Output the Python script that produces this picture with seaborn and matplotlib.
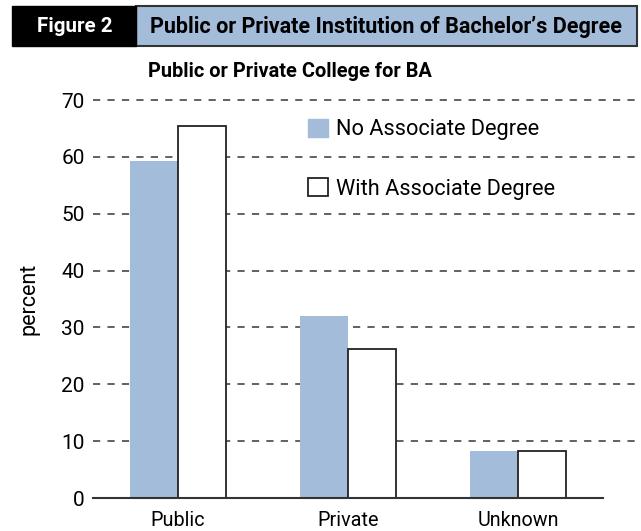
import pandas as pd
import numpy as np
import matplotlib
matplotlib.use("Agg")
import matplotlib.pyplot as plt
import seaborn as sns
from matplotlib.patches import Rectangle, Patch

categorias = ["Public", "Private", "Unknown"]
sem_associado = [59.2, 32.0, 8.3]
com_associado = [65.4, 26.2, 8.3]
series = ["No Associate Degree", "With Associate Degree"]
cores = ["#A2BCDA", "#FFFFFF"]

df = pd.DataFrame({
    "tipo": categorias * 2,
    "serie": [series[0]] * 3 + [series[1]] * 3,
    "percent": sem_associado + com_associado,
})

sns.set_style("white")
plt.rcParams["font.family"] = ["Roboto", "DejaVu Sans"]
for k in ["text.color", "axes.labelcolor", "xtick.color", "ytick.color"]:
    plt.rcParams[k] = "black"

W, H = 641, 531
fig = plt.figure(figsize=(W / 100, H / 100), dpi=100)
ax = fig.add_axes([93 / W, 1 - 498 / H, 1 - 93 / W, (498 - 100) / H])

sns.barplot(data=df, x="tipo", y="percent", hue="serie", order=categorias,
            hue_order=series, palette=cores, width=0.57, saturation=1,
            legend=False, ax=ax, zorder=3)

# borda preta so nas barras brancas
for cont, cor in zip(ax.containers, cores):
    for p in cont:
        if cor == "#FFFFFF":
            p.set_edgecolor("#222222")
            p.set_linewidth(1.3)
        else:
            p.set_edgecolor(cor)
            p.set_linewidth(0)

ax.set_ylim(0, 70)
ax.set_xlim(-0.5, -0.5 + (W - 93) / 170)
ax.set_yticks(range(0, 71, 10))
for yv in range(10, 71, 10):
    ax.axhline(yv, color="#555555", lw=1.3, ls=(0, (4, 4)), zorder=1, clip_on=False)

for s in ["top", "right", "left"]:
    ax.spines[s].set_visible(False)
ax.spines["bottom"].set_bounds(-0.5, 2.5)
ax.spines["bottom"].set_color("#333333")
ax.spines["bottom"].set_linewidth(1.5)
ax.spines["bottom"].set_zorder(4)

ax.set_xticks([-0.5, 0.5, 1.5, 2.5], minor=True)
ax.tick_params(axis="x", which="major", length=0, labelsize=14.2, pad=9)
ax.tick_params(axis="x", which="minor", length=5, width=1.3, color="#333333", direction="out")
ax.tick_params(axis="y", length=0, labelsize=15, pad=6)
ax.set_xlabel("")
ax.set_ylabel("percent", fontsize=15.5, labelpad=16)

ax.legend(handles=[Patch(facecolor=cores[0], edgecolor=cores[0]),
                   Patch(facecolor=cores[1], edgecolor="#222222", linewidth=1.3)],
          labels=series, loc="upper left", bbox_to_anchor=(0.393, 0.953),
          frameon=False, fontsize=15.7, handlelength=0.88, handleheight=0.88,
          handletextpad=0.4, labelspacing=1.75, borderaxespad=0, borderpad=0)

fig.text(290 / W, 1 - 71 / H, "Public or Private College for BA", ha="center",
         va="center", fontsize=14.4, fontweight="bold")

# cabecalho
fig.patches.append(Rectangle((136 / W, 1 - 46 / H), (637 - 136) / W, 40 / H,
                             transform=fig.transFigure, facecolor="#A2BCDA",
                             edgecolor="#333333", linewidth=1.5))
fig.patches.append(Rectangle((12 / W, 1 - 46 / H), (136 - 12) / W, 40 / H,
                             transform=fig.transFigure, facecolor="black",
                             edgecolor="black"))
fig.text(75 / W, 1 - 27 / H, "Figure 2", color="white", ha="center", va="center",
         fontsize=14.8, fontweight="bold")
fig.text(386 / W, 1 - 27 / H, "Public or Private Institution of Bachelor\u2019s Degree",
         ha="center", va="center", fontsize=15.5, fontweight="bold")

plt.savefig("out.png", dpi=100)
